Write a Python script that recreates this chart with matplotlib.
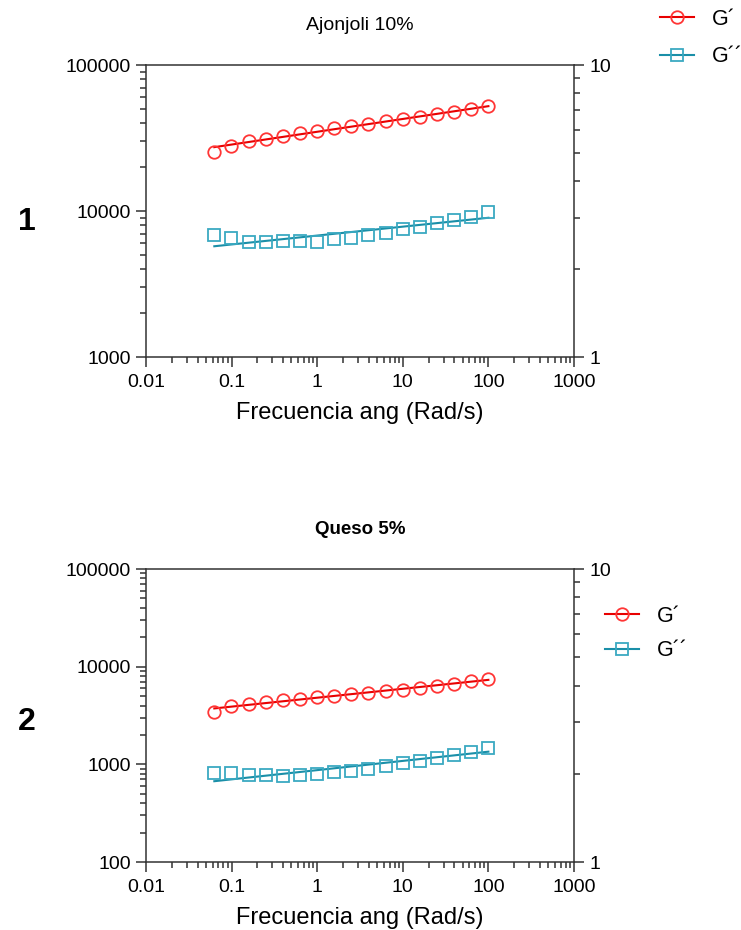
import numpy as np
import matplotlib
matplotlib.use("Agg")
import matplotlib.pyplot as plt
from matplotlib.ticker import LogLocator, NullFormatter, FixedLocator, FixedFormatter
from matplotlib.lines import Line2D

plt.rcParams['font.family'] = ['Liberation Sans', 'DejaVu Sans']

# ---- data ----
freq = [0.0628, 0.0995, 0.158, 0.250, 0.396, 0.628, 0.995, 1.58, 2.50,
        3.96, 6.28, 9.95, 15.8, 25.0, 39.6, 62.8, 100.0]

ajonjoli_Gp = [25200, 28000, 30000, 31100, 32600, 34000, 35500, 36800, 38200,
               39600, 41100, 42700, 44300, 45900, 47900, 49700, 52400]
ajonjoli_Gpp = [6890, 6500, 6110, 6170, 6200, 6230, 6170, 6400, 6560,
                6820, 7070, 7500, 7800, 8230, 8670, 9140, 9790]

queso_Gp = [3440, 3930, 4150, 4310, 4520, 4710, 4900, 5050, 5210,
            5430, 5600, 5830, 6110, 6410, 6610, 7050, 7510]
queso_Gpp = [810, 810, 778, 772, 766, 772, 796, 829, 861,
             903, 963, 1026, 1084, 1164, 1250, 1352, 1466]

titles = ["Ajonjoli 10%", "Queso 5%"]
panel_labels = ["1", "2"]
series_labels = ["G\u00b4", "G\u00b4\u00b4"]
xticks = [0.01, 0.1, 1, 10, 100, 1000]
xticklabels = ["0.01", "0.1", "1", "10", "100", "1000"]
yticks_top = [1000, 10000, 100000]
yticks_bottom = [100, 1000, 10000, 100000]
right_ticks = [1, 10]

RED_M = '#ff3535'
RED_L = '#e80000'
TEAL_M = '#3aa9c1'
TEAL_L = '#1a8fa8'
SPINE = '#333333'

fig = plt.figure(figsize=(7.41, 9.30), dpi=100)

W, H = 741, 930
def rect(l, t, r, b):
    return [l / W, 1 - b / H, (r - l) / W, (b - t) / H]

ax1 = fig.add_axes(rect(146, 65, 574, 357))
ax2 = fig.add_axes(rect(146, 569, 574, 862))


def power_fit(x, y):
    lx, ly = np.log10(x), np.log10(y)
    p = np.polyfit(lx, ly, 1, w=np.asarray(y, float) / np.max(y))
    xx = np.array([x[0], x[-1]])
    return xx, 10 ** np.polyval(p, np.log10(xx))


def draw(ax, gp, gpp, yticks, title, title_bold, plabel, plabel_y):
    x = np.array(freq)
    for y, mc, lc, mk, lab in [(gp, RED_M, RED_L, 'o', series_labels[0]),
                               (gpp, TEAL_M, TEAL_L, 's', series_labels[1])]:
        fx, fy = power_fit(x, y)
        ax.plot(fx, fy, color=lc, lw=1.5, zorder=2)
        ax.plot(x, y, linestyle='none', marker=mk, markersize=9,
                markerfacecolor='none', markeredgecolor=mc,
                markeredgewidth=1.3, zorder=3)
    ax.set_xscale('log')
    ax.set_yscale('log')
    ax.set_xlim(0.01, 1000)
    ax.set_ylim(yticks[0], yticks[-1])
    ax.xaxis.set_major_locator(FixedLocator(xticks))
    ax.xaxis.set_major_formatter(FixedFormatter(xticklabels))
    ax.xaxis.set_minor_locator(LogLocator(base=10, subs=np.arange(2, 10), numticks=20))
    ax.xaxis.set_minor_formatter(NullFormatter())
    ax.yaxis.set_major_locator(FixedLocator(yticks))
    ax.yaxis.set_major_formatter(FixedFormatter([str(v) for v in yticks]))
    ax.yaxis.set_minor_locator(LogLocator(base=10, subs=np.arange(2, 10), numticks=20))
    ax.yaxis.set_minor_formatter(NullFormatter())
    ax.tick_params(axis='both', which='major', direction='out', length=7,
                   width=1.1, color=SPINE, labelsize=14, pad=4)
    ax.tick_params(axis='both', which='minor', direction='out', length=4,
                   width=1.1, color=SPINE)
    ax.tick_params(axis='x', top=False, pad=5)
    ax.tick_params(axis='y', right=False)
    for s in ['left', 'bottom', 'top']:
        ax.spines[s].set_color(SPINE)
        ax.spines[s].set_linewidth(1.1)
    ax.spines['right'].set_visible(False)
    ax.set_xlabel("Frecuencia ang (Rad/s)", fontsize=17, labelpad=8)
    ax.set_title(title, fontsize=14 if not title_bold else 13.5,
                 fontweight='bold' if title_bold else 'normal', pad=25)

    tw = ax.twinx()
    tw.set_yscale('log')
    tw.set_ylim(right_ticks[0], right_ticks[-1])
    tw.yaxis.set_major_locator(FixedLocator(right_ticks))
    tw.yaxis.set_major_formatter(FixedFormatter([str(v) for v in right_ticks]))
    tw.yaxis.set_minor_locator(LogLocator(base=10, subs=np.arange(2, 10), numticks=20))
    tw.yaxis.set_minor_formatter(NullFormatter())
    tw.tick_params(axis='y', which='major', direction='out', length=7,
                   width=1.1, color=SPINE, labelsize=14, pad=4)
    tw.tick_params(axis='y', which='minor', direction='out', length=4,
                   width=1.1, color=SPINE)
    tw.tick_params(axis='x', which='both', top=True, bottom=False,
                   labeltop=False, labelbottom=False, direction='in',
                   color=SPINE, width=1.1)
    tw.tick_params(axis='x', which='major', length=7)
    tw.tick_params(axis='x', which='minor', length=4)
    tw.spines['right'].set_color(SPINE)
    tw.spines['right'].set_linewidth(1.1)
    for s in ['left', 'bottom', 'top']:
        tw.spines[s].set_visible(False)

    fig.text(18 / W, 1 - plabel_y / H, plabel, fontsize=23,
             fontweight='bold', ha='left', va='center')


draw(ax1, ajonjoli_Gp, ajonjoli_Gpp, yticks_top, titles[0], False, panel_labels[0], 222)
draw(ax2, queso_Gp, queso_Gpp, yticks_bottom, titles[1], True, panel_labels[1], 722)

handles = [Line2D([], [], color=RED_L, lw=1.5, marker='o', markersize=9,
                  markerfacecolor='none', markeredgecolor=RED_M, markeredgewidth=1.3),
           Line2D([], [], color=TEAL_L, lw=1.5, marker='s', markersize=9,
                  markerfacecolor='none', markeredgecolor=TEAL_M, markeredgewidth=1.3)]

fig.legend(handles, series_labels, loc='upper left',
           bbox_to_anchor=(660 / W, 1 - 9 / H), frameon=False, fontsize=15.5,
           handlelength=1.6, handletextpad=0.8, labelspacing=0.75,
           borderpad=0, borderaxespad=0)
fig.legend(handles, series_labels, loc='upper left',
           bbox_to_anchor=(605 / W, 1 - 606 / H), frameon=False, fontsize=15.5,
           handlelength=1.6, handletextpad=0.8, labelspacing=0.62,
           borderpad=0, borderaxespad=0)

fig.savefig("out.png", dpi=100)
